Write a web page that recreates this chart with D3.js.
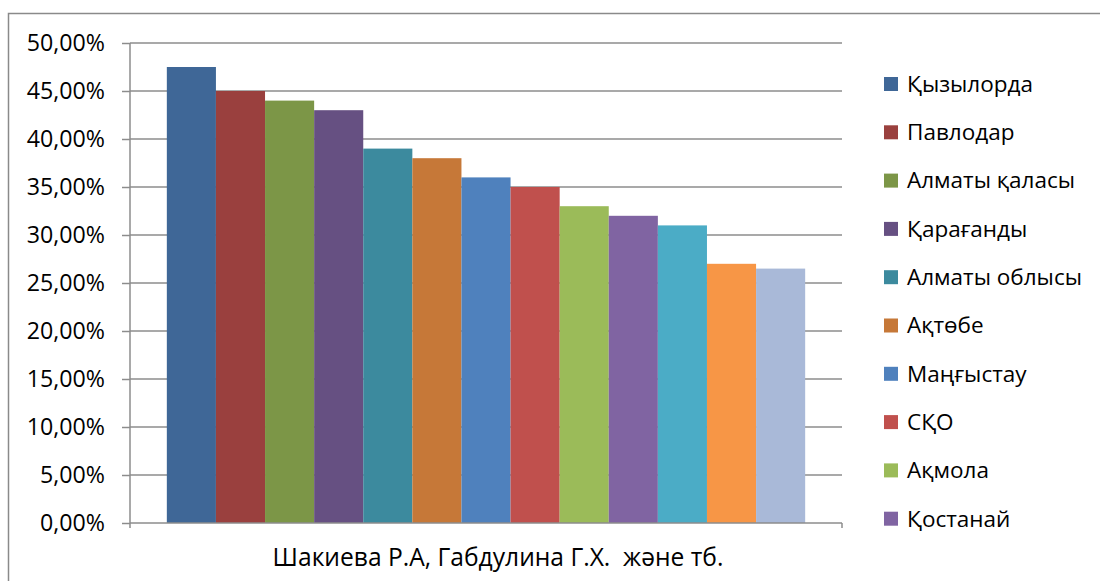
<!DOCTYPE html>
<html>
<head>
<meta charset="utf-8">
<script src="https://cdn.jsdelivr.net/npm/d3@7"></script>
<style>
  body { margin: 0; background: #fff; }
  svg { display: block; font-family: "Open Sans", "Noto Sans", sans-serif; }
</style>
</head>
<body>
<div id="chart"></div>
<script>
// Regions shown in the legend (the last three bars have no visible legend entry)
const regions = ["Қызылорда", "Павлодар", "Алматы қаласы", "Қарағанды", "Алматы облысы",
  "Ақтөбе", "Маңғыстау", "СҚО", "Ақмола", "Қостанай"];
const values = [0.475, 0.45, 0.44, 0.43, 0.39, 0.38, 0.36, 0.35, 0.33, 0.32, 0.31, 0.27, 0.265];
const colors = ["#3f6797", "#9a403e", "#7c9647", "#665082", "#3c8a9e", "#c67838",
  "#4f81bd", "#c0504d", "#9bbb59", "#8064a2", "#4bacc6", "#f79646", "#a9b9d8"];
const yTicks = [0, 0.05, 0.1, 0.15, 0.2, 0.25, 0.3, 0.35, 0.4, 0.45, 0.5];
const caption = "Шакиева Р.А, Габдулина Г.Х.  және тб.";

const fullWidth = 1100;
const fullHeight = 581;
const plot = { left: 130, right: 842, top: 43, bottom: 523 };

const svg = d3.select("#chart").append("svg")
  .attr("width", fullWidth)
  .attr("height", fullHeight);

// chart frame (cropped on the right and bottom in the original)
svg.append("rect")
  .attr("x", 8.5).attr("y", 13.5)
  .attr("width", 1200).attr("height", 700)
  .attr("fill", "none")
  .attr("stroke", "#8a8a8a")
  .attr("stroke-width", 1.5);

const y = d3.scaleLinear().domain([0, 0.5]).range([plot.bottom, plot.top]);

const x = d3.scaleBand()
  .domain(d3.range(values.length))
  .range([plot.left, plot.right])
  .paddingInner(0)
  .paddingOuter(0.75);

const fmt = v => (v * 100).toFixed(2).replace(".", ",") + "%";

// gridlines
svg.append("g")
  .selectAll("line")
  .data(yTicks.filter(d => d > 0))
  .enter()
  .append("line")
  .attr("x1", plot.left).attr("x2", plot.right)
  .attr("y1", d => y(d)).attr("y2", d => y(d))
  .attr("stroke", "#8c8c8c")
  .attr("stroke-width", 1.5);

// bars
svg.append("g")
  .selectAll("rect")
  .data(values)
  .enter()
  .append("rect")
  .attr("x", (d, i) => x(i))
  .attr("y", d => y(d))
  .attr("width", x.bandwidth())
  .attr("height", d => y(0) - y(d))
  .attr("fill", (d, i) => colors[i]);

// y axis
const yAxis = svg.append("g")
  .attr("transform", `translate(${plot.left},0)`)
  .call(d3.axisLeft(y).tickValues(yTicks).tickFormat(fmt).tickSize(8).tickPadding(17));
yAxis.attr("font-family", null).attr("font-size", null);
yAxis.select(".domain").remove();
yAxis.selectAll("line").attr("stroke", "#8c8c8c").attr("stroke-width", 1.5);
yAxis.selectAll("text")
  .attr("fill", "#000")
  .style("font-size", "23.2px");
yAxis.append("line")
  .attr("x1", 0).attr("x2", 0)
  .attr("y1", plot.top).attr("y2", plot.bottom + 5)
  .attr("stroke", "#8c8c8c").attr("stroke-width", 1.5);

// x axis line with end ticks
svg.append("line")
  .attr("x1", plot.left).attr("x2", plot.right)
  .attr("y1", plot.bottom).attr("y2", plot.bottom)
  .attr("stroke", "#8c8c8c").attr("stroke-width", 1.5);
svg.append("line")
  .attr("x1", plot.right).attr("x2", plot.right)
  .attr("y1", plot.bottom).attr("y2", plot.bottom + 5)
  .attr("stroke", "#8c8c8c").attr("stroke-width", 1.5);

// category caption
svg.append("text")
  .attr("x", 498)
  .attr("y", 566)
  .attr("text-anchor", "middle")
  .style("font-size", "24.6px")
  .style("white-space", "pre")
  .text(caption);

// legend
const legend = svg.append("g")
  .selectAll("g")
  .data(regions)
  .enter()
  .append("g")
  .attr("transform", (d, i) => `translate(884,${84 + i * 48.3})`);

legend.append("rect")
  .attr("x", 0).attr("y", -7)
  .attr("width", 14).attr("height", 14)
  .attr("fill", (d, i) => colors[i]);

legend.append("text")
  .attr("x", 23)
  .attr("dy", "0.35em")
  .style("font-size", "22.5px")
  .text(d => d);
</script>
</body>
</html>
